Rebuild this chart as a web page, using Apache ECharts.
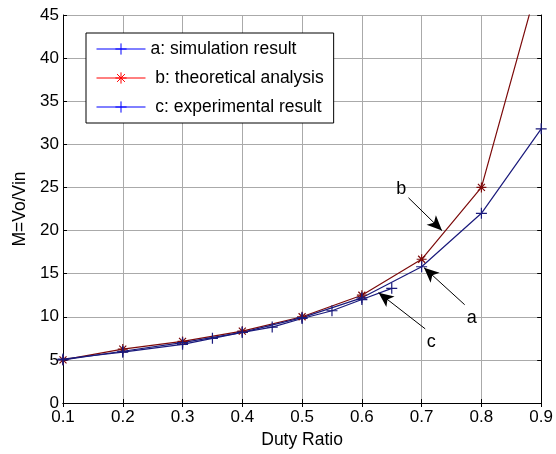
<!DOCTYPE html>
<html>
<head>
<meta charset="utf-8">
<script src="https://cdn.jsdelivr.net/npm/echarts@6/dist/echarts.min.js"></script>
<style>
  html, body { margin: 0; padding: 0; background: #fff; }
  #chart { width: 556px; height: 454px; }
</style>
</head>
<body>
<div id="chart"></div>
<script>
// duty ratios and gains
const dutyAB = [0.1, 0.2, 0.3, 0.4, 0.5, 0.6, 0.7, 0.8, 0.9]
const simResult = [5.0, 6.0, 7.0, 8.2, 9.9, 12.2, 15.8, 22.0, 31.8]
const theoryResult = [5.0, 6.25, 7.14, 8.33, 10.0, 12.5, 16.67, 25.0, 50.0]
const dutyC = [0.1, 0.2, 0.3, 0.35, 0.4, 0.45, 0.5, 0.55, 0.6, 0.65]
const expResult = [5.1, 5.9, 6.8, 7.5, 8.2, 8.8, 9.8, 10.7, 12.0, 13.3]

const seriesNames = ['a: simulation result', ' b: theoretical analysis', ' c: experimental result']

// annotation arrows (tail -> head) and their letters, in data units
const noteLetters = ['a', 'b', 'c']
const arrowTail = [[0.772, 11.4], [0.678, 23.8], [0.706, 8.6]]
const arrowHead = [[0.704, 15.7], [0.734, 20.0], [0.628, 12.8]]
const letterPos = [[0.784, 9.9], [0.666, 24.8], [0.716, 7.1]]

const navy = '#1a1a7c'
const maroon = '#7c0a0a'
const plusPath = 'path://M0,5L10,5M5,0L5,10'
const starPath = 'path://M5,0L5,10M0,5L10,5M1.5,1.5L8.5,8.5M1.5,8.5L8.5,1.5'
const font = 'Liberation Sans, Arial, sans-serif'

const pairs = (xs, ys) => xs.map((x, i) => [x, ys[i]])

const chart = echarts.init(document.getElementById('chart'))

chart.setOption({
  animation: false,
  backgroundColor: '#fff',
  textStyle: { fontFamily: font },
  grid: { left: 63, right: 11, top: 15, bottom: 51 },
  legend: {
    orient: 'vertical',
    left: 86,
    top: 33,
    padding: [7, 10, 7, 10],
    itemWidth: 49,
    itemHeight: 14,
    itemGap: 11,
    backgroundColor: '#fff',
    borderColor: '#000',
    borderWidth: 1,
    textStyle: { fontSize: 17.5, color: '#000', fontFamily: font, lineHeight: 14 },
    data: [
      { name: seriesNames[0], itemStyle: { color: 'transparent', borderColor: '#0000ff', borderWidth: 1 }, lineStyle: { color: '#0000ff', width: 1 } },
      { name: seriesNames[1], itemStyle: { color: 'transparent', borderColor: '#ff0000', borderWidth: 1 }, lineStyle: { color: '#ff0000', width: 1 } },
      { name: seriesNames[2], itemStyle: { color: 'transparent', borderColor: '#0000ff', borderWidth: 1 }, lineStyle: { color: '#0000ff', width: 1 } }
    ]
  },
  xAxis: [{
    type: 'value',
    min: 0.1,
    max: 0.9,
    interval: 0.1,
    name: 'Duty Ratio',
    nameLocation: 'middle',
    nameGap: 25,
    nameTextStyle: { fontSize: 17.5, color: '#000' },
    axisLine: { lineStyle: { color: '#000', width: 1 } },
    axisTick: { inside: true, length: 4, lineStyle: { color: '#000' } },
    axisLabel: { fontSize: 17, color: '#000', margin: 6, formatter: v => v.toFixed(1) },
    splitLine: { show: true, lineStyle: { color: '#aaaaaa', width: 1 } }
  }, {
    type: 'value',
    position: 'top',
    min: 0.1,
    max: 0.9,
    interval: 0.1,
    axisLine: { lineStyle: { color: '#000', width: 1 } },
    axisTick: { inside: true, length: 4, lineStyle: { color: '#000' } },
    axisLabel: { show: false },
    splitLine: { show: false }
  }],
  yAxis: [{
    type: 'value',
    min: 0,
    max: 45,
    interval: 5,
    name: 'M=Vo/Vin',
    nameLocation: 'middle',
    nameGap: 32,
    nameTextStyle: { fontSize: 17.5, color: '#000' },
    axisLine: { show: true, lineStyle: { color: '#000', width: 1 } },
    axisTick: { show: true, inside: true, length: 4, lineStyle: { color: '#000' } },
    axisLabel: { fontSize: 17, color: '#000', margin: 4 },
    splitLine: { show: true, lineStyle: { color: '#aaaaaa', width: 1 } }
  }, {
    type: 'value',
    position: 'right',
    min: 0,
    max: 45,
    interval: 5,
    axisLine: { show: true, lineStyle: { color: '#000', width: 1 } },
    axisTick: { show: true, inside: true, length: 4, lineStyle: { color: '#000' } },
    axisLabel: { show: false },
    splitLine: { show: false }
  }],
  series: [{
    name: seriesNames[1],
    type: 'line',
    data: pairs(dutyAB, theoryResult),
    symbol: starPath,
    symbolSize: 10,
    lineStyle: { color: maroon, width: 1.2 },
    itemStyle: { color: 'transparent', borderColor: maroon, borderWidth: 1.2 }
  }, {
    name: seriesNames[0],
    type: 'line',
    data: pairs(dutyAB, simResult),
    symbol: plusPath,
    symbolSize: 11,
    lineStyle: { color: navy, width: 1.2 },
    itemStyle: { color: 'transparent', borderColor: navy, borderWidth: 1.2 },
    markLine: {
      silent: true,
      symbol: ['none', 'arrow'],
      symbolSize: [0, 14],
      lineStyle: { color: '#000', width: 1, type: 'solid' },
      itemStyle: { color: '#000' },
      label: { show: false },
      data: arrowTail.map((t, i) => [
        { coord: t, symbol: 'none' },
        { coord: arrowHead[i], symbol: 'arrow', symbolSize: [10, 15] }
      ])
    },
    markPoint: {
      silent: true,
      symbol: 'circle',
      symbolSize: 0,
      label: { show: true, position: 'inside', fontSize: 18, color: '#000', fontFamily: font },
      data: letterPos.map((p, i) => ({ coord: p, value: noteLetters[i] }))
    }
  }, {
    name: seriesNames[2],
    type: 'line',
    data: pairs(dutyC, expResult),
    symbol: plusPath,
    symbolSize: 11,
    lineStyle: { color: navy, width: 1.2 },
    itemStyle: { color: 'transparent', borderColor: navy, borderWidth: 1.2 }
  }]
})
</script>
</body>
</html>
